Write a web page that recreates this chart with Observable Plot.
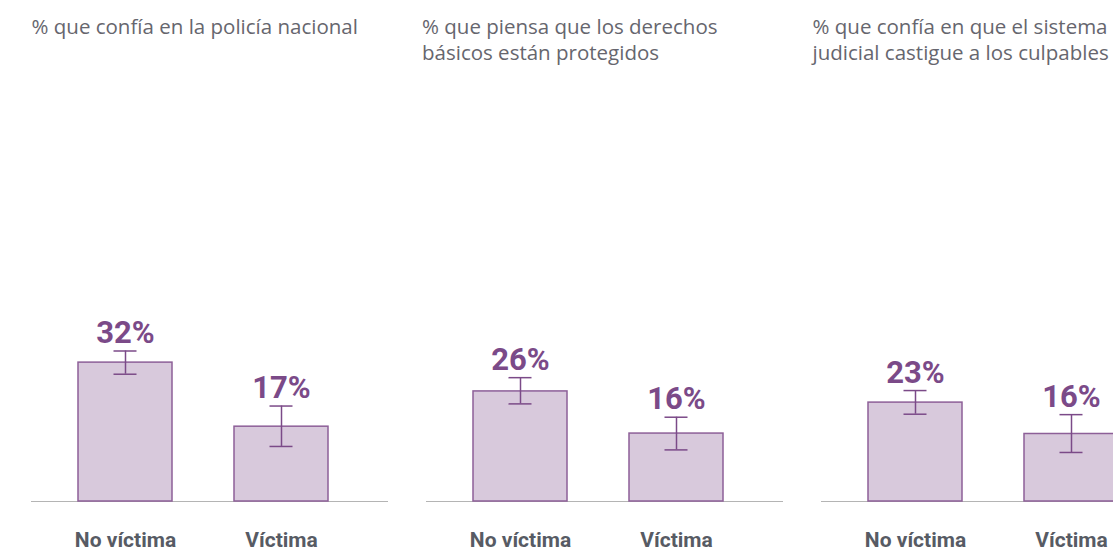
<!DOCTYPE html>
<html>
<head>
<meta charset="utf-8">
<script src="https://cdn.jsdelivr.net/npm/d3@7"></script>
<script src="https://cdn.jsdelivr.net/npm/@observablehq/plot@0.6"></script>
<style>
  html, body { margin: 0; padding: 0; background: #fff; overflow: hidden; }
  #chart svg { max-width: none; display: block; }
</style>
</head>
<body>
<div id="chart"></div>
<script>
const panels = [
  "% que confía en la policía nacional",
  "% que piensa que los derechos\nbásicos están protegidos",
  "% que confía en que el sistema\njudicial castigue a los culpables"
];
const groups = ["No víctima", "Víctima"];
// values per panel: [No víctima, Víctima]
const values = [[32.3, 17.4], [25.6, 15.8], [23.0, 15.7]];
const errLow  = [[29.6, 12.8], [22.7, 12.0], [20.3, 11.4]];
const errHigh = [[35.0, 22.2], [28.8, 19.6], [25.8, 20.2]];

const rows = [];
panels.forEach((p, i) => groups.forEach((g, j) => rows.push({
  panel: p, group: g, value: values[i][j], lo: errLow[i][j], hi: errHigh[i][j]
})));

const purple = "#7b4a88";
// small per-panel horizontal nudge of the titles (layout only)
const titleShift = [0, -4.5, -9];
const titleMarks = panels.map((p, i) =>
  Plot.text([{panel: p}], {fx: "panel", text: "panel", frameAnchor: "top-left", textAnchor: "start",
    lineAnchor: "top", dx: titleShift[i], dy: -55.6, lineHeight: 1.27, fill: "#66666e",
    fontFamily: "Open Sans", fontSize: 20.5})
);

const chart = Plot.plot({
  width: 1179,
  height: 549,
  marginTop: 71,
  marginBottom: 48,
  marginLeft: 30,
  marginRight: 1,
  fx: {domain: panels, paddingInner: 0.097, paddingOuter: 0, axis: null},
  x: {domain: groups, paddingInner: 0.4, paddingOuter: 0.3376, align: 0.44, axis: null},
  y: {domain: [0, 100], axis: null},
  marks: [
    Plot.ruleY([0], {stroke: "#b4b4b4", strokeWidth: 1.2}),
    Plot.barY(rows, {fx: "panel", x: "group", y: "value", fill: "#d8c9dc", stroke: "#8d5f98", strokeWidth: 1.5}),
    Plot.ruleX(rows, {fx: "panel", x: "group", y1: "lo", y2: "hi", stroke: purple, strokeWidth: 1.5}),
    Plot.tickY(rows, {fx: "panel", x: "group", y: "lo", stroke: purple, strokeWidth: 1.5, insetLeft: 35.5, insetRight: 35.5}),
    Plot.tickY(rows, {fx: "panel", x: "group", y: "hi", stroke: purple, strokeWidth: 1.5, insetLeft: 35.5, insetRight: 35.5}),
    Plot.text(rows, {fx: "panel", x: "group", y: "hi", text: d => Math.round(d.value) + "%",
      lineAnchor: "bottom", dy: -8, fill: purple, fontFamily: "Roboto", fontWeight: 700, fontSize: 31}),
    Plot.text(rows, {fx: "panel", x: "group", text: "group", frameAnchor: "bottom",
      lineAnchor: "bottom", dy: 45, fill: "#575b64", fontFamily: "Roboto", fontWeight: 700, fontSize: 21}),
    ...titleMarks
  ]
});
document.getElementById("chart").appendChild(chart);
</script>
</body>
</html>
